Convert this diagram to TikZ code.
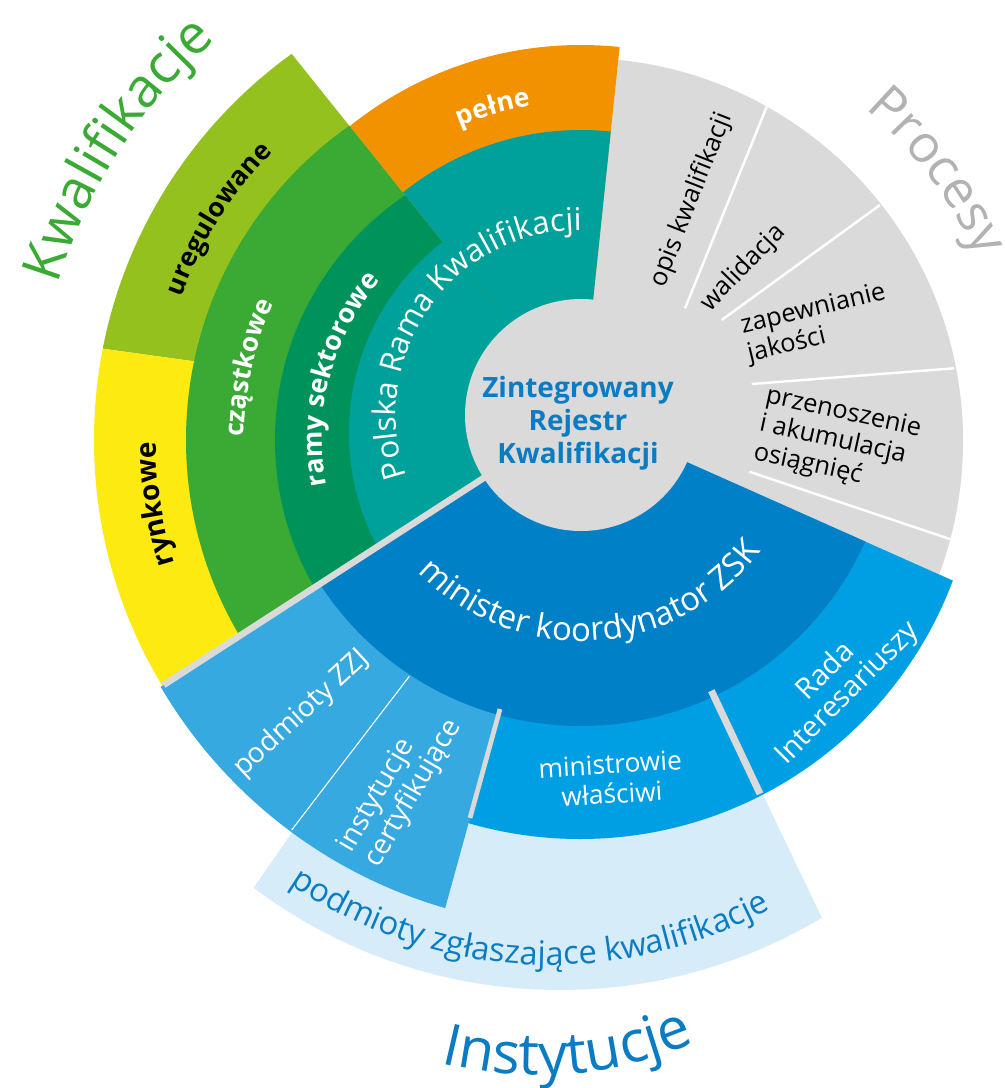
\documentclass[tikz,border=0pt]{standalone}
\usepackage{fontspec}
\setmainfont{Open Sans}
\usepackage{xcolor}
\usepackage{tikz}
\usetikzlibrary{calc,decorations.text}

\definecolor{prkteal}{HTML}{00A19A}
\definecolor{pelneorange}{HTML}{F39200}
\definecolor{uregreen}{HTML}{95C11F}
\definecolor{czagreen}{HTML}{3AAA35}
\definecolor{ramgreen}{HTML}{00925B}
\definecolor{rynyellow}{HTML}{FCEA10}
\definecolor{procgrey}{HTML}{DADADA}
\definecolor{minblue}{HTML}{0080C6}
\definecolor{zzjblue}{HTML}{36A9E1}
\definecolor{radablue}{HTML}{009FE3}
\definecolor{paleblue}{HTML}{D6ECF8}
\definecolor{titlegrey}{HTML}{B2B2B2}
\definecolor{titleblue}{HTML}{0B7CC3}

\newcommand\wedgefill[5]{%
  \begin{scope}
    \clip (ctr) -- +(#3:1400) -- +({(#3+#4)/2}:1400) -- +(#4:1400) -- cycle;
    \fill[#5] (#1) circle[radius=#2];
  \end{scope}}
\newcommand\cwlabel[5]{%
  \path[decorate,decoration={text along path,text align=center,text={|#4|#5}}]
    (#1) ++({#3+75}:#2) arc[start angle={#3+75},end angle={#3-75},radius=#2];}
\newcommand\ccwlabel[5]{%
  \path[decorate,decoration={text along path,text align=center,text={|#4|#5}}]
    (#1) ++({#3-75}:#2) arc[start angle={#3-75},end angle={#3+75},radius=#2];}
\newcommand\boldlbl{\fontsize{15}{15}\selectfont\bfseries}

\tikzset{
  proclbl/.style={text=black,font=\fontsize{14.5}{16.5}\selectfont,inner sep=0pt,align=left},
  instlbl/.style={text=white,font=\fontsize{16}{17.5}\selectfont,inner sep=0pt},
  zrk/.style={text=titleblue,font=\fontsize{15.9}{18.7}\selectfont\bfseries,align=center,inner sep=0pt},
  sepline/.style={procgrey,line width=3.7pt},
  wline/.style={white,line width=1.4pt}
}

\begin{document}
\begin{tikzpicture}[x=0.02cm,y=0.02cm]
    \useasboundingbox (0,0) rectangle (1004,-1088);
    \coordinate (ctr) at (581,-415);
    \coordinate (gc) at (580,-441);
    \coordinate (kc) at (570,-440);
    \coordinate (tc) at (591,-433);
    \coordinate (pc) at (560,-480);
    \coordinate (ic) at (538,-675);
    \coordinate (sc) at (551,-503);

    \wedgefill{gc}{383}{-24}{84}{procgrey}
    \wedgefill{ctr}{370}{84}{128.7}{pelneorange}
    \wedgefill{ctr}{285}{84}{128.7}{prkteal}
    \wedgefill{kc}{476}{128.7}{172.1}{uregreen}
    \wedgefill{kc}{476}{172.1}{212.9}{rynyellow}
    \wedgefill{kc}{384}{128.7}{212.9}{czagreen}
    \wedgefill{kc}{295}{128.7}{212.9}{ramgreen}
    \wedgefill{tc}{242}{128.7}{212.9}{prkteal}
    \wedgefill{pc}{510}{235.3}{295.6}{paleblue}
    \wedgefill{gc}{486}{212.9}{254.6}{zzjblue}
    \wedgefill{gc}{398}{254.6}{336}{radablue}
    \wedgefill{ctr}{311}{212.9}{336}{minblue}

    \draw[sepline] ($(ctr)+(212.9:100)$) -- ($(ctr)+(212.9:497)$);
    \draw[procgrey,line width=2.7pt] ($(ctr)+(254.6:305)$) -- ($(ctr)+(254.6:418)$);
    \draw[procgrey,line width=4pt] ($(ctr)+(295.3:305)$) -- ($(ctr)+(295.3:419)$);
    \draw[white,line width=0.6pt] (409.3,-676.3) -- (291.7,-830);
    \draw[wline] (685,-308.3) -- (766.7,-106.7);
    \draw[wline] (721.7,-320) -- (880,-205);
    \draw[wline] (751.7,-384) -- (954,-368.3);
    \draw[wline] (749.3,-471.7) -- (951,-539.4);

    \fill[procgrey] (ctr) circle[radius=116];
    \node[zrk] (zrk) at (578,-423) {Zintegrowany\\Rejestr\\Kwalifikacji};

    \node[proclbl,rotate=68.6] (opis) at (691.7,-200) {opis kwalifikacji};
    \node[proclbl,rotate=46] (walid) at (743.3,-268.3) {walidacja};
    \node[proclbl,rotate=13.5] (zapew) at (816.7,-324.2) {zapewnianie\\jakości};
    \node[proclbl,rotate=-12.3] (przen) at (837.2,-441.5) {przenoszenie\\i akumulacja\\osiągnięć};
    \node[instlbl,rotate=42.7] (zzj) at (301.7,-713.8) {podmioty ZZJ};
    \node[instlbl,rotate=60,align=left] (certy) at (400.5,-786) {instytucje\\certyfikujące};
    \node[instlbl,rotate=3.5,align=center,font=\fontsize{15}{17}\selectfont] (minw) at (611,-779) {ministrowie\\właściwi};
    \node[instlbl,rotate=45,align=center,font=\fontsize{16.5}{17.5}\selectfont] (rada) at (837,-683) {Rada\\Interesariuszy};

    \cwlabel{kc}{535}{147.3}{\fontsize{31}{31}\selectfont\color{czagreen}}{Kwalifikacje}
    \cwlabel{gc}{438}{37}{\fontsize{29.5}{30}\selectfont\color{titlegrey}}{Procesy}
    \ccwlabel{ic}{400}{274.5}{\fontsize{33}{33}\selectfont\color{titleblue}}{Instytucje}
    \cwlabel{ctr}{185}{144.5}{\fontsize{17.8}{18}\selectfont\color{white}}{Polska Rama Kwalifikacji}
    \cwlabel{ctr}{313}{106}{\boldlbl\color{white}}{pełne}
    \cwlabel{kc}{414}{147.85}{\boldlbl\color{black}}{uregulowane}
    \cwlabel{kc}{414}{188.8}{\fontsize{16}{16}\selectfont\bfseries\color{black}}{rynkowe}
    \cwlabel{kc}{326}{167.3}{\boldlbl\color{white}}{cząstkowe}
    \cwlabel{kc}{248}{165.3}{\fontsize{15.3}{16}\selectfont\bfseries\color{white}}{ramy sektorowe}
    \ccwlabel{ctr}{226}{273.4}{\fontsize{18.7}{19}\selectfont\color{white}}{minister koordynator ZSK}
    \ccwlabel{sc}{462}{267}{\fontsize{18.6}{19}\selectfont\color{titleblue}}{podmioty zgłaszające kwalifikacje}
\end{tikzpicture}
\end{document}
